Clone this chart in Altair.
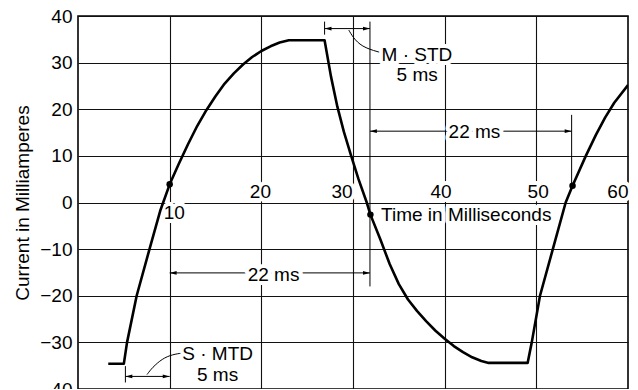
import altair as alt
import pandas as pd

# ---- waveform (time in ms, current in mA) ----
time_ms = [3.3, 5.0, 5.35, 6.4, 7.8, 9.0, 10.0, 11.0, 12.0, 13.0, 14.0, 15.0, 16.0, 17.0,
           18.0, 19.0, 20.0, 21.0, 22.0, 23.0, 26.9, 27.6, 28.3, 29.0, 29.8, 30.6, 31.5,
           31.9, 33.0, 34.0, 35.0, 36.0, 37.0, 38.0, 39.0, 40.0, 41.0, 42.0, 43.0, 44.0,
           44.8, 49.05, 49.5, 50.4, 51.8, 53.2, 53.95, 55.4, 56.5, 57.5, 58.5, 60.0]
current_ma = [-34.6, -34.6, -30.0, -20.0, -10.0, -1.6, 3.9, 8.3, 12.5, 16.4, 19.8, 22.8, 25.5, 27.7,
              29.6, 31.2, 32.5, 33.5, 34.3, 34.8, 34.8, 27.0, 20.5, 15.2, 10.0, 5.0, 0.0,
              -2.6, -8.0, -13.2, -17.5, -20.8, -23.3, -25.5, -27.5, -29.2, -30.8, -32.1, -33.2, -34.0,
              -34.4, -34.4, -30.0, -20.0, -10.0, 0.0, 3.6, 10.0, 14.5, 18.2, 21.4, 25.2]

# ---- marked points ----
dot_t = [10.0, 31.9, 53.95]
dot_i = [3.9, -2.6, 3.6]

# ---- x tick labels (drawn inside the plot, near the zero line) ----
xlab_text = ["10", "20", "30", "40", "50", "60"]
xlab_t = [10.5, 19.9, 28.8, 39.6, 50.2, 58.9]
xlab_i = [-2.3, 2.2, 2.2, 2.2, 2.2, 2.2]

# ---- annotation texts ----
note_text = ["M · STD", "5 ms", "22 ms", "22 ms", "S · MTD", "5 ms", "Time in Milliseconds"]
note_t = [36.97, 37.0, 43.25, 21.33, 15.23, 15.23, 42.35]
note_i = [31.6, 27.3, 15.2, -15.5, -32.6, -36.9, -2.6]

# ---- dimension lines ----
dim_t1 = [26.9, 31.85, 10.0, 5.17]
dim_t2 = [31.85, 53.85, 31.85, 10.0]
dim_i = [37.3, 15.3, -15.1, -37.3]

# ---- extension lines ----
ext_t = [26.9, 31.85, 53.85, 5.17]
ext_i1 = [38.8, 38.8, 18.8, -35.1]
ext_i2 = [36.0, -18.0, 3.6, -38.6]

# ---- leader curves ----
lead_id = ["m", "m", "m", "m", "s", "s", "s", "s", "s"]
lead_t = [29.54, 30.2, 31.28, 33.24, 7.53, 8.1, 9.19, 10.28, 11.5]
lead_i = [36.98, 34.8, 33.1, 32.05, -36.9, -35.4, -33.5, -32.6, -32.25]
lead_ord = [0, 1, 2, 3, 0, 1, 2, 3, 4]

FONT = "Liberation Sans"
FS = 19
W, H = 550, 373

xs = alt.Scale(domain=[0, 60], nice=False, zero=False)
ys = alt.Scale(domain=[-40, 40], nice=False, zero=False)

x_axis = alt.Axis(values=[10, 20, 30, 40, 50], grid=True, labels=False, ticks=False,
                  domain=False, title=None, gridColor="#111111", gridWidth=1.1, gridOpacity=1)
y_axis = alt.Axis(values=[-40, -30, -20, -10, 0, 10, 20, 30, 40], grid=True, ticks=False,
                  domain=False, gridColor="#111111", gridWidth=1.1, gridOpacity=1,
                  labelFont=FONT, labelFontSize=FS, labelColor="black", labelPadding=6,
                  title="Current in Milliamperes", titleFont=FONT, titleFontSize=FS,
                  titleFontWeight="normal", titleColor="black", titleX=-46, titleY=H / 2,
                  titleAngle=270, titleBaseline="bottom", titleAlign="center")


def X(f):
    return alt.X(f, type="quantitative", scale=xs, axis=x_axis)


def Y(f):
    return alt.Y(f, type="quantitative", scale=ys, axis=y_axis)


curve_df = pd.DataFrame({"t": time_ms, "i": current_ma, "o": list(range(len(time_ms)))})
dots_df = pd.DataFrame({"t": dot_t, "i": dot_i})
xlab_df = pd.DataFrame({"t": xlab_t, "i": xlab_i, "txt": xlab_text})
note_df = pd.DataFrame({"t": note_t, "i": note_i, "txt": note_text})
dim_df = pd.DataFrame({"t1": dim_t1, "t2": dim_t2, "i": dim_i})
ext_df = pd.DataFrame({"t": ext_t, "i1": ext_i1, "i2": ext_i2})
lead_df = pd.DataFrame({"t": lead_t, "i": lead_i, "g": lead_id, "o": lead_ord})
arrow_l_df = pd.DataFrame({"t": dim_t1, "i": dim_i})
arrow_r_df = pd.DataFrame({"t": dim_t2, "i": dim_i})

curve = alt.Chart(curve_df).mark_line(color="black", strokeWidth=2.6, clip=True,
                                      strokeJoin="round").encode(
    x=X("t"), y=Y("i"), order="o:Q")

dims = alt.Chart(dim_df).mark_rule(color="black", strokeWidth=1).encode(
    x=X("t1"), x2="t2", y=Y("i"))

exts = alt.Chart(ext_df).mark_rule(color="black", strokeWidth=1).encode(
    x=X("t"), y=Y("i1"), y2="i2")

leads = alt.Chart(lead_df).mark_line(color="black", strokeWidth=1, interpolate="basis").encode(
    x=X("t"), y=Y("i"), detail="g:N", order="o:Q")

arrow_l = alt.Chart(arrow_l_df).mark_point(
    shape="M0,0L4,-1.1L4,1.1Z", filled=True, color="black", size=12, opacity=1).encode(
    x=X("t"), y=Y("i"))
arrow_r = alt.Chart(arrow_r_df).mark_point(
    shape="M0,0L-4,-1.1L-4,1.1Z", filled=True, color="black", size=12, opacity=1).encode(
    x=X("t"), y=Y("i"))


def text_layers(df):
    halo = alt.Chart(df).mark_text(font=FONT, fontSize=FS, align="center", baseline="middle",
                                   stroke="white", strokeWidth=8, strokeJoin="round",
                                   fill="white").encode(x=X("t"), y=Y("i"), text="txt:N")
    ink = alt.Chart(df).mark_text(font=FONT, fontSize=FS, align="center", baseline="middle",
                                  color="black").encode(x=X("t"), y=Y("i"), text="txt:N")
    return [halo, ink]


dots = alt.Chart(dots_df).mark_circle(color="black", size=42, opacity=1).encode(
    x=X("t"), y=Y("i"))

layers = [dims, exts, leads, arrow_l, arrow_r] + text_layers(note_df) + text_layers(xlab_df) + [curve, dots]

chart = alt.layer(*layers).properties(
    width=W, height=H,
    autosize=alt.AutoSizeParams(type="none"),
    padding={"left": 70, "top": 8, "right": 2, "bottom": 0},
    background="white",
).configure_view(stroke="black", strokeWidth=1.6)

chart.save("out.html", embed_options={"renderer": "svg", "actions": False})
